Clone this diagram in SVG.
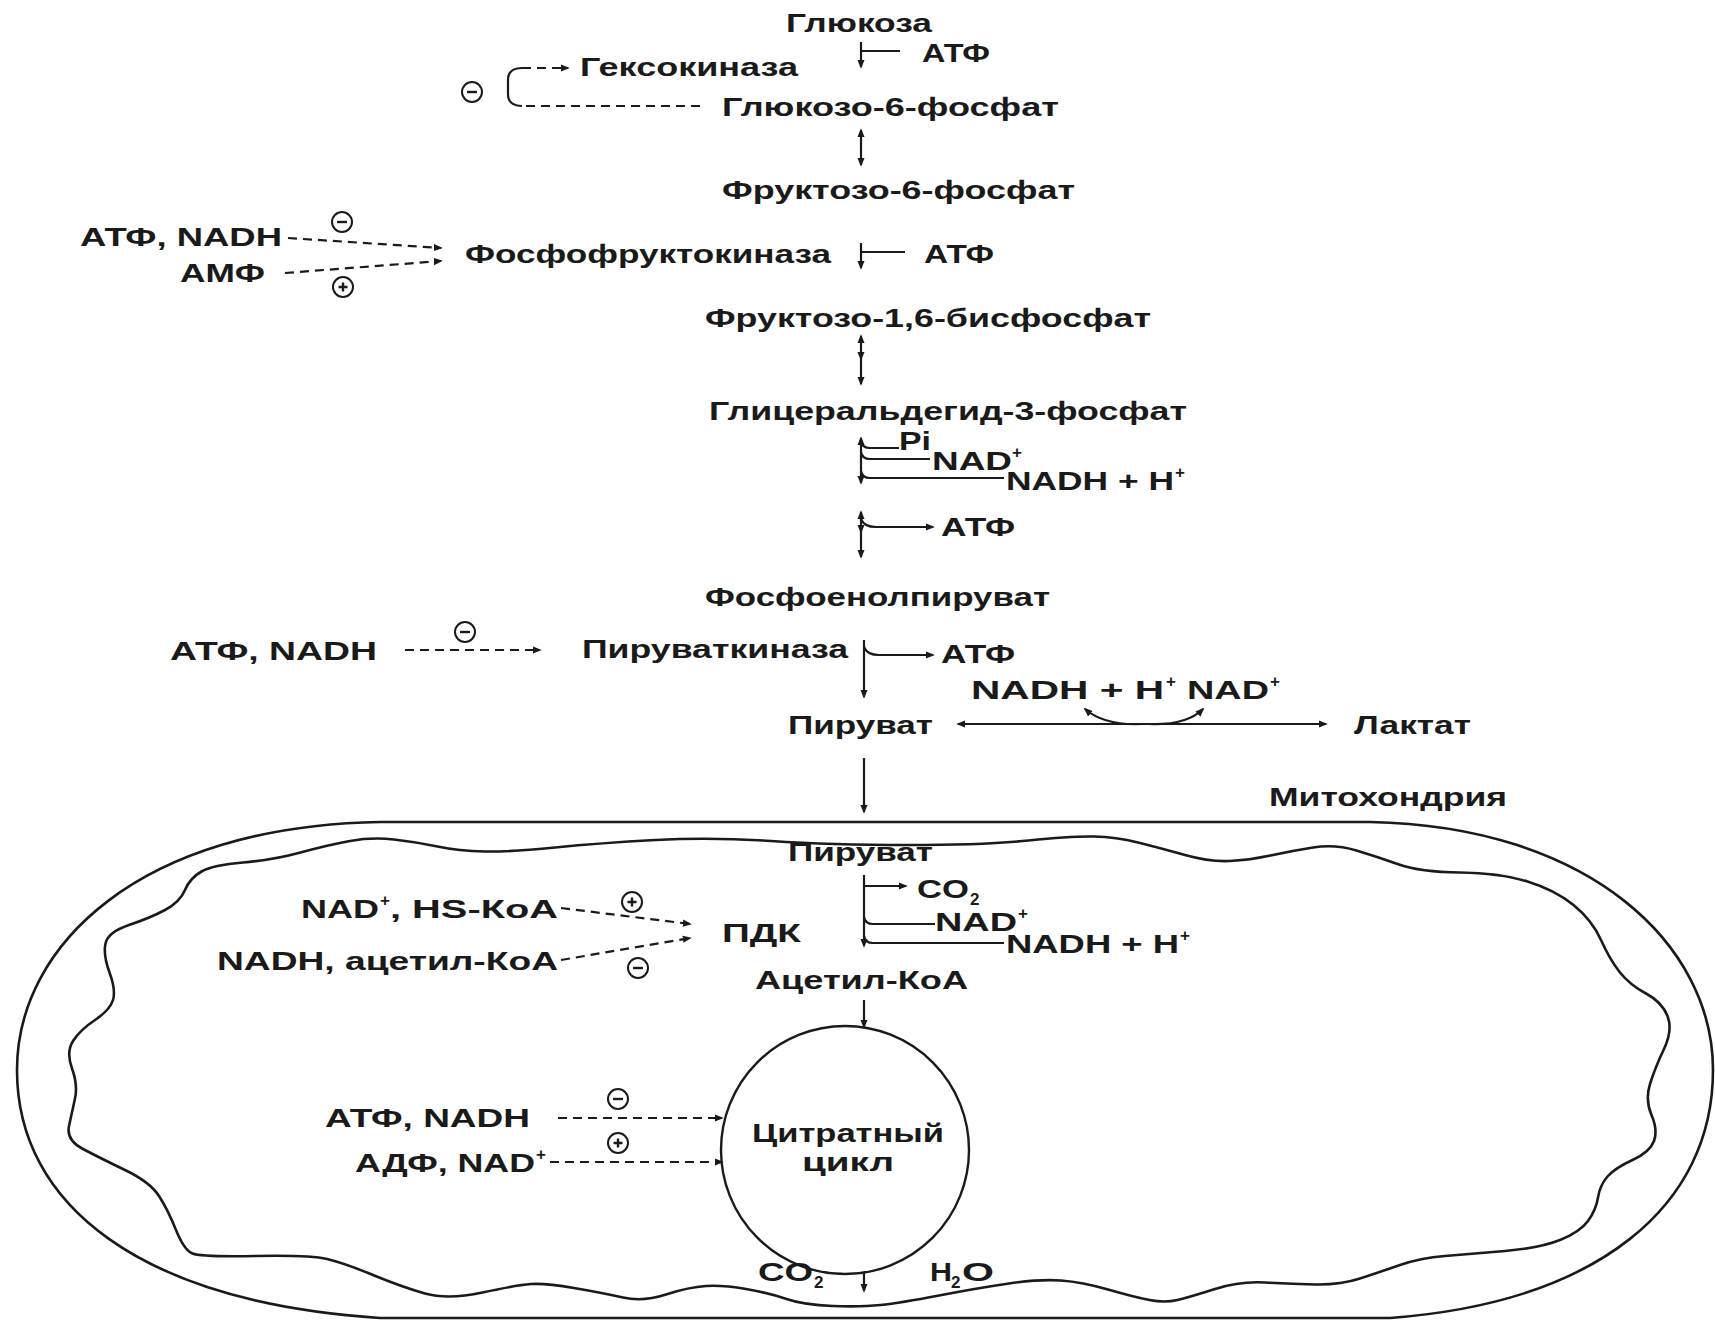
<svg xmlns="http://www.w3.org/2000/svg" xmlns:xlink="http://www.w3.org/1999/xlink" width="1715" height="1320" viewBox="0 0 1715 1320">
<style>
text{font-family:"Liberation Sans",Arial,sans-serif;font-size:26px;font-weight:bold;fill:#1a1a1a}
.sup{font-size:17px}
.mid{text-anchor:middle}
.ln{stroke:#1a1a1a;stroke-width:2.2;fill:none}
.dash{stroke-dasharray:9 6}
.mem{stroke:#1a1a1a;stroke-width:2.6;fill:none}
</style>
<defs>
<marker id="ah" viewBox="0 0 10 10" refX="8" refY="5" markerWidth="9" markerHeight="9" markerUnits="userSpaceOnUse" orient="auto-start-reverse"><path d="M0,1 L10,5 L0,9 z" fill="#1a1a1a"/></marker>
<g id="minus"><circle r="10" fill="#fff" stroke="#1a1a1a" stroke-width="2"/><path d="M-5,0 H5" stroke="#1a1a1a" stroke-width="2.4"/></g>
<g id="plus"><circle r="10" fill="#fff" stroke="#1a1a1a" stroke-width="2"/><path d="M-4.5,0 H4.5 M0,-4.5 V4.5" stroke="#1a1a1a" stroke-width="2.4"/></g>
</defs>
<rect width="1715" height="1320" fill="#fff"/>

<g id="mitochondrion">
<path class="mem" d="M380,822 L1370,822 C1590,826 1713,945 1713,1070 C1713,1205 1600,1302 1390,1318 L380,1318 C140,1302 17,1205 17,1070 C17,945 140,826 380,822 Z"/>
<path class="mem" d="M201.5,871.5 Q213,865 243,862.5 Q273,860 300.5,852.5 Q328,845 350,841 Q372,837 394,839.5 Q416,842 437.5,846.5 Q459,851 484.5,851.5 Q510,852 555,847.5 Q600,843 655.5,840 Q711,837 771,841 Q831,845 908,845 Q985,845 1028.5,840.5 Q1072,836 1094,836.5 Q1116,837 1138,842.5 Q1160,848 1185,855 Q1210,862 1230,861 Q1250,860 1270.5,855.5 Q1291,851 1313,847.5 Q1335,844 1356.5,850.5 Q1378,857 1399,864.5 Q1420,872 1460,872.5 Q1500,873 1527.5,881.5 Q1555,890 1573.5,905 Q1592,920 1601,940 Q1610,960 1620,972.5 Q1630,985 1646,993.5 Q1662,1002 1667.5,1016 Q1673,1030 1664,1049 Q1655,1068 1650,1084 Q1645,1100 1651.5,1115 Q1658,1130 1654,1141 Q1650,1152 1632.5,1160 Q1615,1168 1607.5,1176.5 Q1600,1185 1598,1197.5 Q1596,1210 1588,1221 Q1580,1232 1560,1240 Q1540,1248 1505,1251 Q1470,1254 1445,1256 Q1420,1258 1400,1265 Q1380,1272 1360,1278.5 Q1340,1285 1315,1284.5 Q1290,1284 1265,1282.5 Q1240,1281 1215,1289 Q1190,1297 1177.5,1300 Q1165,1303 1149.5,1300 Q1134,1297 1108,1289.5 Q1082,1282 1061,1280.5 Q1040,1279 1009,1283.5 Q978,1288 939,1295.5 Q900,1303 880.5,1305 Q861,1307 832.5,1306 Q804,1305 786.5,1299 Q769,1293 746,1289 Q723,1285 706,1286 Q689,1287 666,1294.5 Q643,1302 623,1297.5 Q603,1293 574,1288 Q545,1283 531,1284 Q517,1285 482.5,1292.5 Q448,1300 425,1293.5 Q402,1287 373,1275 Q344,1263 327,1259 Q310,1255 255.5,1256 Q201,1257 192.5,1253.5 Q184,1250 176,1230 Q168,1210 159,1196 Q150,1182 125,1170 Q100,1158 83,1149 Q66,1140 69,1126 Q72,1112 75,1098.5 Q78,1085 72,1068.5 Q66,1052 73,1041 Q80,1030 95,1020 Q110,1010 113,1000 Q116,990 109.5,972.5 Q103,955 105.5,943.5 Q108,932 129,925 Q150,918 165,910 Q180,902 185,890 Q190,878 201.5,871.5 Z"/>
<text x="1269" y="806" textLength="238" lengthAdjust="spacingAndGlyphs">Митохондрия</text>
</g>

<g id="connectors">
<path class="ln" d="M861,42 V67" marker-end="url(#ah)"/>
<path class="ln" d="M861,51 H900"/>
<path class="ln dash" d="M700,106 H522"/>
<path class="ln" d="M522,106 Q508,106 508,94 V80 Q508,68 522,68"/>
<path class="ln dash" d="M522,68 H568" marker-end="url(#ah)"/>
<path class="ln" d="M861,130 V165" marker-start="url(#ah)" marker-end="url(#ah)"/>
<path class="ln dash" d="M288,238 L441,248" marker-end="url(#ah)"/>
<path class="ln dash" d="M285,273 L441,261" marker-end="url(#ah)"/>
<path class="ln" d="M861,243 V268" marker-end="url(#ah)"/>
<path class="ln" d="M861,252 H905"/>
<path class="ln" d="M861,336 V359 V384" marker-start="url(#ah)" marker-mid="url(#ah)" marker-end="url(#ah)"/>
<path class="ln" d="M861,438 V483" marker-start="url(#ah)" marker-end="url(#ah)"/>
<path class="ln" d="M861,441 Q862,448 870,448 H899"/>
<path class="ln" d="M861,452 Q862,459 870,459 H930"/>
<path class="ln" d="M861,471 Q862,478 870,478 H1004"/>
<path class="ln" d="M861,512 V532 V557" marker-start="url(#ah)" marker-mid="url(#ah)" marker-end="url(#ah)"/>
<path class="ln" d="M861,519 Q864,527 876,527 H933" marker-end="url(#ah)"/>
<path class="ln dash" d="M405,650 H540" marker-end="url(#ah)"/>
<path class="ln" d="M864,640 V697" marker-end="url(#ah)"/>
<path class="ln" d="M864,647 Q867,655 879,655 H933" marker-end="url(#ah)"/>
<path class="ln" d="M958,724 H1326" marker-start="url(#ah)" marker-end="url(#ah)"/>
<path class="ln" d="M1085,709 C1100,722 1120,725 1142,724" marker-start="url(#ah)"/>
<path class="ln" d="M1203,709 C1190,722 1170,725 1148,724" marker-start="url(#ah)"/>
<path class="ln" d="M864,758 V812" marker-end="url(#ah)"/>
<path class="ln" d="M864,875 V946" marker-end="url(#ah)"/>
<path class="ln" d="M864,886 H906" marker-end="url(#ah)"/>
<path class="ln" d="M864,917 Q865,924 873,924 H935"/>
<path class="ln" d="M864,936 Q865,943 873,943 H1004"/>
<path class="ln dash" d="M561,908 L690,924" marker-end="url(#ah)"/>
<path class="ln dash" d="M561,960 L690,938" marker-end="url(#ah)"/>
<path class="ln" d="M864,1000 V1027" marker-end="url(#ah)"/>
<path class="ln dash" d="M558,1118 H722" marker-end="url(#ah)"/>
<path class="ln dash" d="M550,1162 H722" marker-end="url(#ah)"/>
<path class="ln" d="M864,1273 V1291" marker-end="url(#ah)"/>
</g>

<g id="signs">
<use xlink:href="#minus" x="472" y="92"/>
<use xlink:href="#minus" x="342" y="222"/>
<use xlink:href="#plus" x="343" y="287"/>
<use xlink:href="#minus" x="465" y="632"/>
<use xlink:href="#plus" x="632" y="902"/>
<use xlink:href="#minus" x="638" y="968"/>
<use xlink:href="#minus" x="618" y="1099"/>
<use xlink:href="#plus" x="618" y="1143"/>
</g>

<g id="n-glucose"><text x="786" y="32" textLength="146" lengthAdjust="spacingAndGlyphs">Глюкоза</text></g>
<g id="n-atp1"><text x="922" y="62" textLength="68" lengthAdjust="spacingAndGlyphs">АТФ</text></g>
<g id="n-hexokinase"><text x="580" y="76" textLength="218" lengthAdjust="spacingAndGlyphs">Гексокиназа</text></g>
<g id="n-g6p"><text x="722" y="116" textLength="337" lengthAdjust="spacingAndGlyphs">Глюкозо-6-фосфат</text></g>
<g id="n-f6p"><text x="722" y="199" textLength="353" lengthAdjust="spacingAndGlyphs">Фруктозо-6-фосфат</text></g>
<g id="n-pfk-inh"><text x="80" y="246" textLength="202" lengthAdjust="spacingAndGlyphs">АТФ, NADH</text></g>
<g id="n-amp"><text x="180" y="282" textLength="85" lengthAdjust="spacingAndGlyphs">АМФ</text></g>
<g id="n-pfk"><text x="465" y="263" textLength="366" lengthAdjust="spacingAndGlyphs">Фосфофруктокиназа</text></g>
<g id="n-atp2"><text x="924" y="263" textLength="70" lengthAdjust="spacingAndGlyphs">АТФ</text></g>
<g id="n-f16bp"><text x="705" y="327" textLength="446" lengthAdjust="spacingAndGlyphs">Фруктозо-1,6-бисфосфат</text></g>
<g id="n-g3p"><text x="709" y="420" textLength="478" lengthAdjust="spacingAndGlyphs">Глицеральдегид-3-фосфат</text></g>
<g id="n-pi"><text x="899" y="450" textLength="32" lengthAdjust="spacingAndGlyphs">Pi</text></g>
<g id="n-nad1"><text x="932" y="470" textLength="80" lengthAdjust="spacingAndGlyphs">NAD</text><text class="sup" x="1012" y="458">+</text></g>
<g id="n-nadh1"><text x="1006" y="490" textLength="168" lengthAdjust="spacingAndGlyphs">NADH + H</text><text class="sup" x="1175" y="478">+</text></g>
<g id="n-atp3"><text x="941" y="536" textLength="74" lengthAdjust="spacingAndGlyphs">АТФ</text></g>
<g id="n-pep"><text x="705" y="606" textLength="345" lengthAdjust="spacingAndGlyphs">Фосфоенолпируват</text></g>
<g id="n-pk-inh"><text x="170" y="660" textLength="207" lengthAdjust="spacingAndGlyphs">АТФ, NADH</text></g>
<g id="n-pk"><text x="582" y="658" textLength="266" lengthAdjust="spacingAndGlyphs">Пируваткиназа</text></g>
<g id="n-atp4"><text x="941" y="663" textLength="74" lengthAdjust="spacingAndGlyphs">АТФ</text></g>
<g id="n-nadh2"><text x="971" y="699" textLength="193" lengthAdjust="spacingAndGlyphs">NADH + H</text><text class="sup" x="1166" y="687">+</text></g>
<g id="n-nad2"><text x="1187" y="699" textLength="82" lengthAdjust="spacingAndGlyphs">NAD</text><text class="sup" x="1270" y="687">+</text></g>
<g id="n-pyruvate"><text x="788" y="734" textLength="145" lengthAdjust="spacingAndGlyphs">Пируват</text></g>
<g id="n-lactate"><text x="1354" y="734" textLength="117" lengthAdjust="spacingAndGlyphs">Лактат</text></g>
<g id="n-pyruvate-m"><text x="788" y="861" textLength="145" lengthAdjust="spacingAndGlyphs">Пируват</text></g>
<g id="n-co2a"><text x="917" y="898" textLength="52" lengthAdjust="spacingAndGlyphs">CO</text><text class="sup" x="970" y="905">2</text></g>
<g id="n-nad3"><text x="935" y="931" textLength="82" lengthAdjust="spacingAndGlyphs">NAD</text><text class="sup" x="1018" y="919">+</text></g>
<g id="n-nadh3"><text x="1006" y="953" textLength="173" lengthAdjust="spacingAndGlyphs">NADH + H</text><text class="sup" x="1180" y="941">+</text></g>
<g id="n-pdk"><text x="722" y="942" textLength="79" lengthAdjust="spacingAndGlyphs">ПДК</text></g>
<g id="n-pdk-act"><text x="301" y="918" textLength="78" lengthAdjust="spacingAndGlyphs">NAD</text><text class="sup" x="380" y="906">+</text><text x="390" y="918" textLength="168" lengthAdjust="spacingAndGlyphs">, HS-КоА</text></g>
<g id="n-pdk-inh"><text x="217" y="970" textLength="341" lengthAdjust="spacingAndGlyphs">NADH, ацетил-КоА</text></g>
<g id="n-acetylcoa"><text x="755" y="989" textLength="213" lengthAdjust="spacingAndGlyphs">Ацетил-КоА</text></g>
<g id="n-tca"><circle cx="845" cy="1150" r="124" fill="none" stroke="#1a1a1a" stroke-width="2.4"/><text class="mid" x="848" y="1142" textLength="192" lengthAdjust="spacingAndGlyphs">Цитратный</text><text class="mid" x="848" y="1171" textLength="92" lengthAdjust="spacingAndGlyphs">цикл</text></g>
<g id="n-tca-inh"><text x="325" y="1127" textLength="205" lengthAdjust="spacingAndGlyphs">АТФ, NADH</text></g>
<g id="n-tca-act"><text x="355" y="1172" textLength="180" lengthAdjust="spacingAndGlyphs">АДФ, NAD</text><text class="sup" x="536" y="1160">+</text></g>
<g id="n-co2b"><text x="758" y="1281" textLength="55" lengthAdjust="spacingAndGlyphs">CO</text><text class="sup" x="814" y="1288">2</text></g>
<g id="n-h2o"><text x="930" y="1281" textLength="22" lengthAdjust="spacingAndGlyphs">H</text><text class="sup" x="951" y="1288">2</text><text x="962" y="1281" textLength="32" lengthAdjust="spacingAndGlyphs">O</text></g>
</svg>
